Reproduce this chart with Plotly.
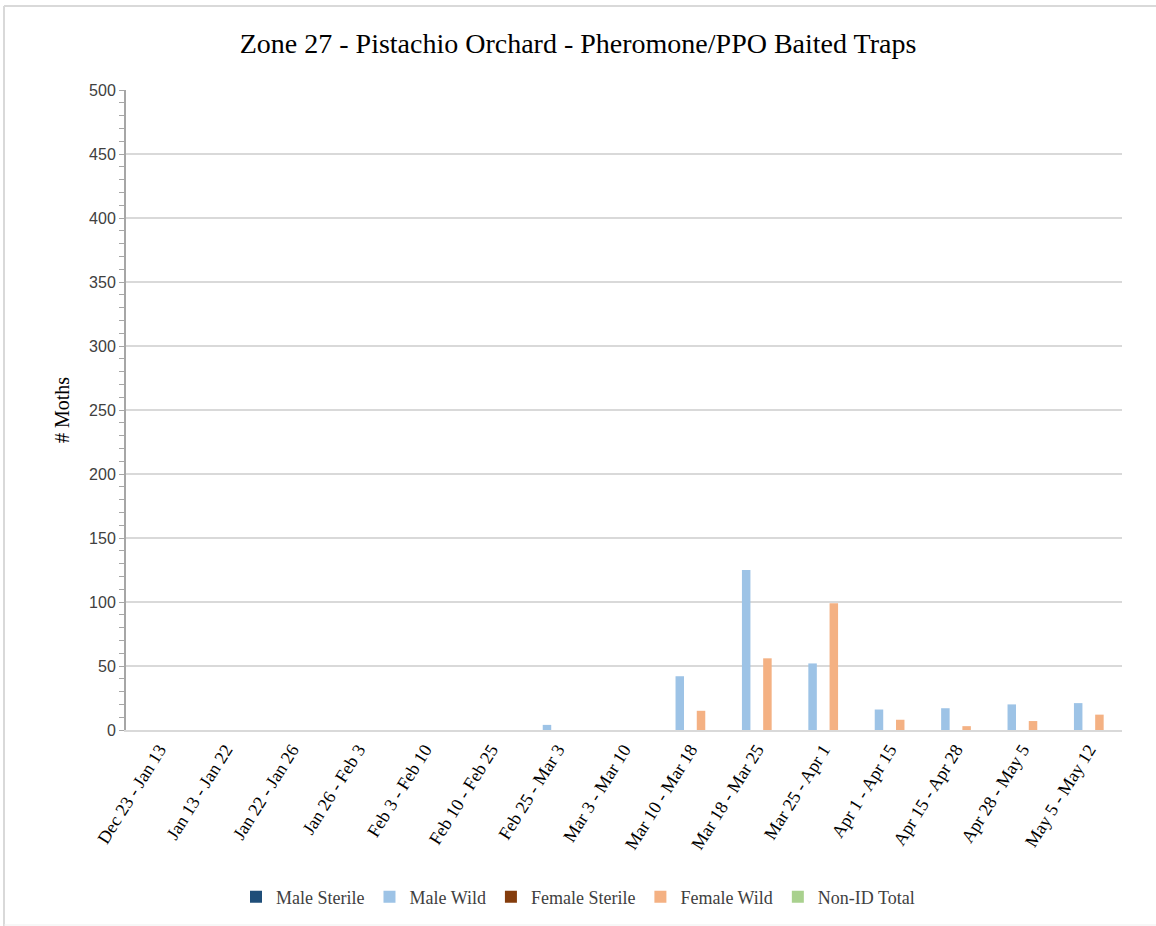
import plotly.graph_objects as go

categories = ["Dec 23 - Jan 13", "Jan 13 - Jan 22", "Jan 22 - Jan 26", "Jan 26 - Feb 3",
              "Feb 3 - Feb 10", "Feb 10 - Feb 25", "Feb 25 - Mar 3", "Mar 3 - Mar 10",
              "Mar 10 - Mar 18", "Mar 18 - Mar 25", "Mar 25 - Apr 1", "Apr 1 - Apr 15",
              "Apr 15 - Apr 28", "Apr 28 - May 5", "May 5 - May 12"]
male_sterile = [0] * 15
male_wild = [0, 0, 0, 0, 0, 0, 4, 0, 42, 125, 52, 16, 17, 20, 21]
female_sterile = [0] * 15
female_wild = [0, 0, 0, 0, 0, 0, 0, 0, 15, 56, 99, 8, 3, 7, 12]
non_id_total = [0] * 15

series = [
    ("Male Sterile", male_sterile, "#1F4E79"),
    ("Male Wild", male_wild, "#9DC3E6"),
    ("Female Sterile", female_sterile, "#843C0C"),
    ("Female Wild", female_wild, "#F4B183"),
    ("Non-ID Total", non_id_total, "#A9D18E"),
]

fig = go.Figure()
for name, vals, color in series:
    fig.add_trace(go.Bar(x=categories, y=vals, name=name, marker_color=color,
                         marker_line_width=0))

serif = "Liberation Serif, Times New Roman, serif"
sans = "Liberation Sans, Arial, sans-serif"

W, H = 1156, 926
L, T, PW, PH = 126, 90, 996, 640

fig.update_layout(
    width=W, height=H,
    paper_bgcolor="white", plot_bgcolor="white",
    margin=dict(l=L, r=W - L - PW, t=T, b=H - T - PH, autoexpand=False),
    barmode="group", bargap=0.2, bargroupgap=0.2,
    title=dict(text="Zone 27 - Pistachio Orchard - Pheromone/PPO Baited Traps",
               x=0.5, xref="container", y=1 - 43 / H, yref="container",
               xanchor="center", yanchor="middle",
               font=dict(family=serif, size=28, color="#000000")),
    legend=dict(orientation="h", x=0.5, xanchor="center", xref="container",
                y=1 - 897 / H, yref="container", yanchor="middle",
                font=dict(family=serif, size=18, color="#404040"),
                itemwidth=30, tracegroupgap=0, traceorder="normal"),
    xaxis=dict(showline=True, linecolor="#D9D9D9", linewidth=2,
               ticks="", tickangle=-58,
               tickfont=dict(family=serif, size=18, color="#000000"),
               showgrid=False),
    yaxis=dict(range=[0, 500], dtick=50, showline=True, linecolor="#A6A6A6", linewidth=2,
               ticks="outside", ticklen=5, tickcolor="#A6A6A6", tickwidth=1,
               minor=dict(dtick=10, ticks="outside", ticklen=5, tickcolor="#A6A6A6",
                          showgrid=False),
               gridcolor="#D9D9D9", gridwidth=2,
               tickfont=dict(family=sans, size=16, color="#404040"),
               title=dict(text="# Moths", font=dict(family=serif, size=20, color="#000000"),
                          standoff=14),
               zeroline=False),
    shapes=[
        dict(type="line", xref="paper", yref="paper",
             x0=(4 - L) / PW, x1=(4 - L) / PW,
             y0=(T + PH - H) / PH, y1=(T + PH - 6) / PH,
             line=dict(color="#D9D9D9", width=2)),
        dict(type="line", xref="paper", yref="paper",
             x0=(4 - L) / PW, x1=(W - L) / PW,
             y0=(T + PH - 6) / PH, y1=(T + PH - 6) / PH,
             line=dict(color="#D9D9D9", width=2)),
        dict(type="line", xref="paper", yref="paper",
             x0=(4 - L) / PW, x1=(W - L) / PW,
             y0=(T + PH - 925) / PH, y1=(T + PH - 925) / PH,
             line=dict(color="#EFEFEF", width=1)),
    ],
)

fig.write_html("out.html", config={"displayModeBar": False},
               post_script="document.body.style.margin='0px';document.body.style.padding='0px';")
